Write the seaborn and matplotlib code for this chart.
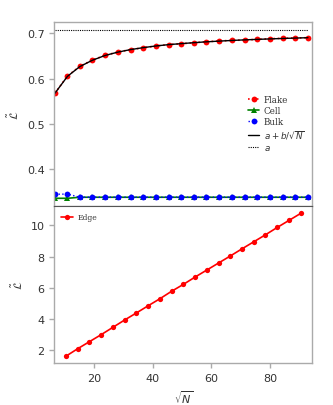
import numpy as np
import pandas as pd
import seaborn as sns
import matplotlib
matplotlib.use("Agg")
import matplotlib.pyplot as plt

# データ
x_top = [6.7, 11.0, 15.2, 19.5, 23.8, 28.2, 32.5, 36.8, 41.1, 45.5, 49.8,
         54.1, 58.4, 62.8, 67.1, 71.4, 75.7, 80.0, 84.4, 88.7, 93.0]
flake = [0.5675, 0.6057, 0.627, 0.641, 0.6514, 0.6587, 0.664, 0.668, 0.672,
         0.675, 0.677, 0.679, 0.6815, 0.683, 0.6845, 0.685, 0.6867, 0.688,
         0.689, 0.6897, 0.6903]
fit = [0.5675, 0.6050, 0.6265, 0.6405, 0.6510, 0.6585, 0.6640, 0.6683, 0.6720,
       0.6750, 0.6772, 0.6793, 0.6812, 0.6828, 0.6842, 0.6855, 0.6866, 0.6876,
       0.6886, 0.6895, 0.6903]
cell = [0.3357, 0.3357] + [0.338] * 19
bulk = [0.3446, 0.345] + [0.338] * 19
a_value = 0.7066

x_edge = [10.5, 14.5, 18.5, 22.5, 26.5, 30.5, 34.5, 38.5, 42.5, 46.5, 50.5,
          54.5, 58.5, 62.5, 66.5, 70.5, 74.5, 78.5, 82.5, 86.5, 90.5]
edge = [1.62, 2.1, 2.55, 3.0, 3.47, 3.94, 4.39, 4.85, 5.3, 5.78, 6.22, 6.69,
        7.14, 7.59, 8.04, 8.5, 8.95, 9.4, 9.87, 10.32, 10.77]

sns.set_theme(style="ticks")
plt.rcParams['font.family'] = ['DejaVu Sans']
plt.rcParams['mathtext.fontset'] = 'dejavusans'

spine_col = '#aaaaaa'
text_col = '#333333'

fig = plt.figure(figsize=(3.33, 4.06), dpi=100)
ax1 = fig.add_axes([0.163, 0.4894, 0.775, 0.454])
ax2 = fig.add_axes([0.163, 0.1027, 0.775, 0.3867], sharex=ax1)

# 上段
ms = 4.2
sns.lineplot(x=x_top, y=flake, ax=ax1, color='red', marker='o', markersize=ms,
             linestyle=':', linewidth=1.2, markeredgewidth=0, sort=False,
             label='Flake')
sns.lineplot(x=x_top, y=cell, ax=ax1, color='green', marker='^', markersize=ms,
             linestyle='-', linewidth=1.2, markeredgewidth=0, sort=False,
             label='Cell')
sns.lineplot(x=x_top, y=bulk, ax=ax1, color='blue', marker='o', markersize=ms,
             linestyle=':', linewidth=1.0, markeredgewidth=0, sort=False,
             label='Bulk')
sns.lineplot(x=x_top, y=fit, ax=ax1, color='black', linewidth=1.0, sort=False,
             label=r'$a + b/\sqrt{N}$')
ax1.plot([x_top[0], x_top[-1]], [a_value, a_value], color='black',
         linestyle=(0, (1, 1)), linewidth=0.8, label=r'$a$')
ax1.set_ylim(0.318, 0.725)
ax1.set_yticks([0.4, 0.5, 0.6, 0.7])
ax1.set_ylabel(r'$\tilde{\mathcal{L}}$', fontsize=8, color=text_col)
leg1 = ax1.legend(loc='center left', bbox_to_anchor=(0.72, 0.45), frameon=False,
                  handlelength=1.3, handletextpad=0.5, labelspacing=0.25,
                  prop={'family': 'DejaVu Serif', 'size': 6.3})
for t in leg1.get_texts():
    t.set_color(text_col)
plt.setp(ax1.get_xticklabels(), visible=False)
ax1.tick_params(axis='x', length=0)

# 下段
sns.lineplot(x=x_edge, y=edge, ax=ax2, color='red', marker='o', markersize=3.8,
             linewidth=1.2, markeredgewidth=0, sort=False, label='Edge')
ax2.set_xlim(6.5, 94.5)
ax2.set_yticks([2, 4, 6, 8, 10])
ax2.set_xticks([20, 40, 60, 80])
ax2.set_xlabel(r'$\sqrt{N}$', fontsize=8, color=text_col)
ax2.set_ylabel(r'$\tilde{\mathcal{L}}$', fontsize=8, color=text_col)
leg2 = ax2.legend(loc='upper left', frameon=False, handlelength=1.6,
                  handletextpad=0.5, prop={'family': 'DejaVu Serif', 'size': 5.5})
for t in leg2.get_texts():
    t.set_color(text_col)

for ax in (ax1, ax2):
    for s in ax.spines.values():
        s.set_color(spine_col)
        s.set_linewidth(1.0)
    ax.tick_params(colors=spine_col, labelcolor=text_col, labelsize=8,
                   length=3.5, width=1.0)
ax2.spines['top'].set_color('#555555')
ax2.spines['top'].set_linewidth(0.8)

fig.savefig('out.png', dpi=100)
